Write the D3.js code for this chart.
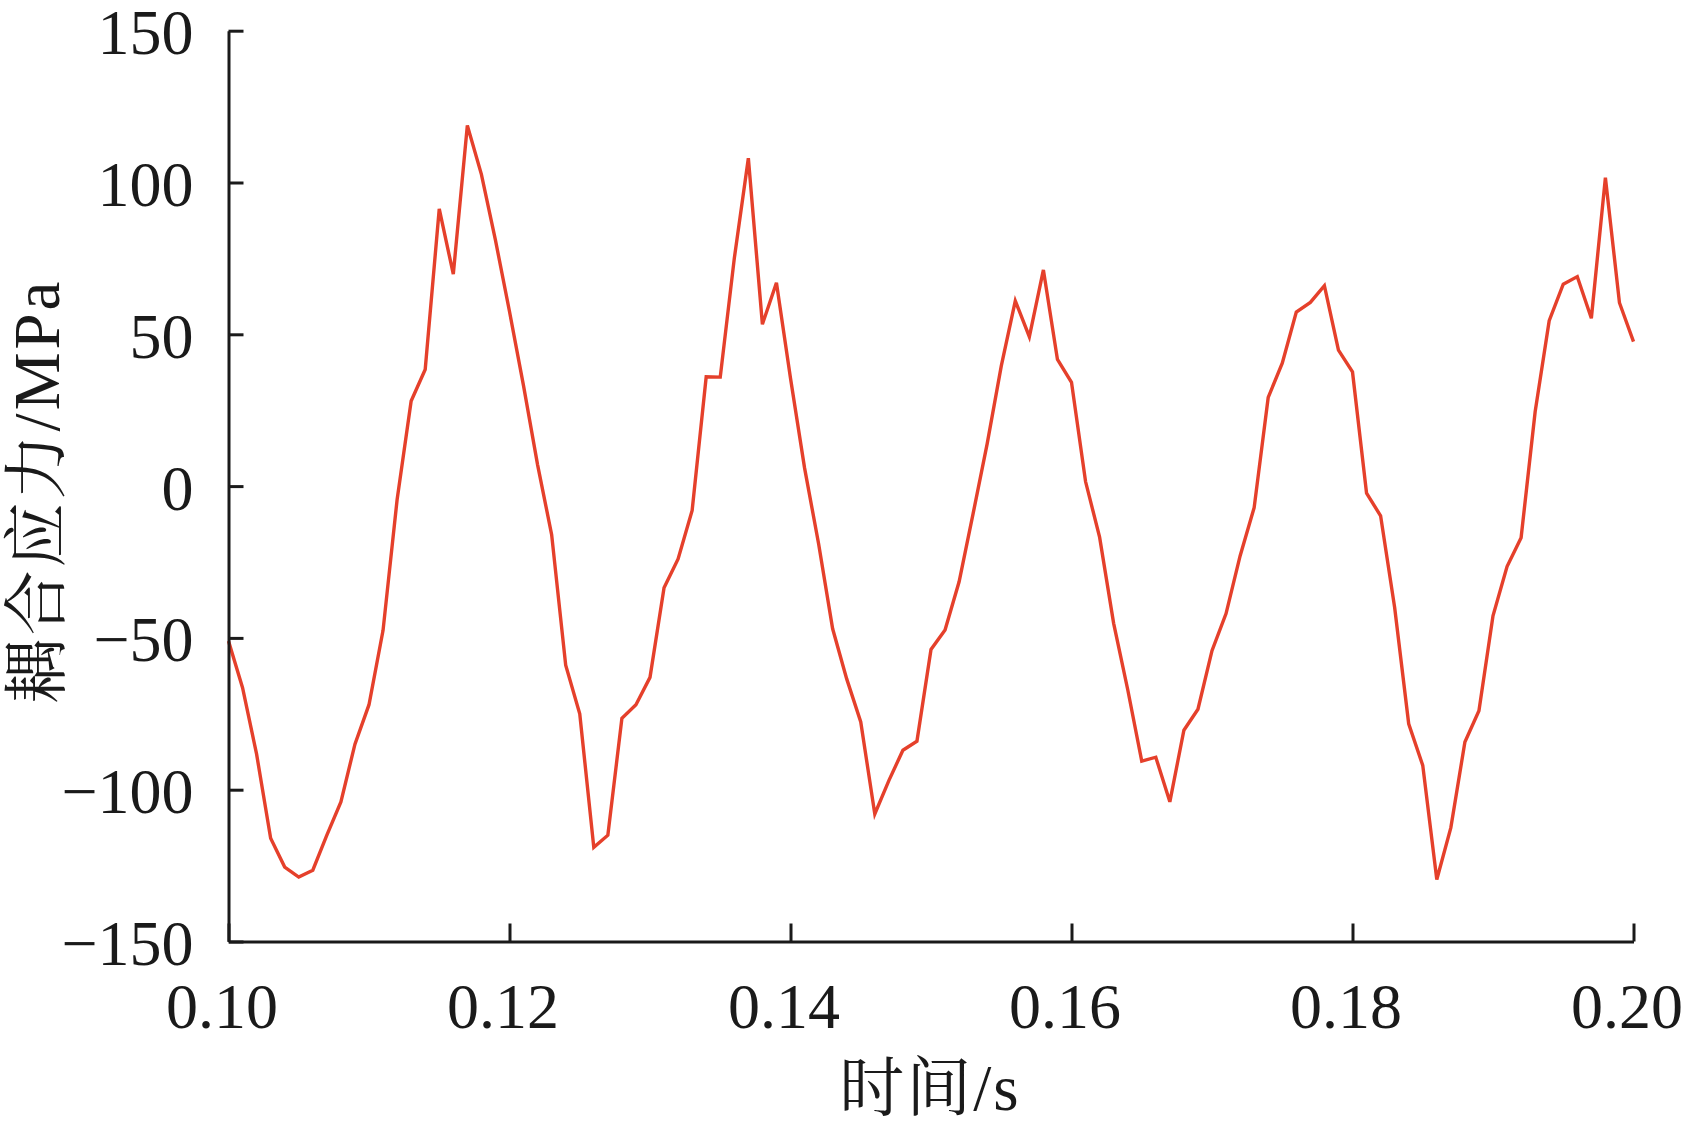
<!DOCTYPE html>
<html>
<head>
<meta charset="utf-8">
<script src="https://cdn.jsdelivr.net/npm/d3@7"></script>
<style>
  html, body { margin: 0; padding: 0; background: #fff; }
  svg { display: block; }
</style>
</head>
<body>
<svg id="chart" width="1684" height="1129"></svg>
<script>
// ---- data ----
const timeStart = 0.100;
const timeStep = 0.001;
const stressValues = [
  -51, -66.4, -88.3, -116, -125.5, -128.8, -126.5, -115, -104, -85,
  -72, -47.5, -4.5, 28, 38.4, 91.3, 69.8, 118.8, 102.7, 81,
  57.5, 33, 7, -16, -59, -75, -119, -115, -76.5, -72,
  -63, -33.5, -24, -8, 36, 35.9, 75, 108, 53.3, 67,
  35.5, 6, -19, -47, -63.5, -77.7, -108, -97, -87, -84,
  -53.8, -47.4, -31.5, -9, 14, 39.5, 61, 49.2, 71.2, 41.7,
  34.2, 1.5, -16.8, -45.2, -67, -90.6, -89.3, -104, -80.4, -73.5,
  -54.2, -42, -23, -7.1, 29.2, 40.5, 57.3, 60.5, 66, 44.8,
  37.6, -2.3, -9.8, -40, -78.3, -92, -129.6, -112.5, -84.3, -74,
  -42.7, -26.5, -17, 24.5, 54.5, 66.5, 69, 55.3, 101.6, 60.4,
  47.6
];
const xTicks = [0.10, 0.12, 0.14, 0.16, 0.18, 0.20];
const yTicks = [-150, -100, -50, 0, 50, 100, 150];
const xTitle = "时间/s";
const yTitle = "耦合应力/MPa";

const points = stressValues.map((v, i) => ({ t: timeStart + i * timeStep, v }));

// ---- layout ----
const plotLeft = 228.5, plotRight = 1633.5, plotTop = 30.7, plotBottom = 941.5;
const svg = d3.select("#chart");

const x = d3.scaleLinear().domain([0.10, 0.20]).range([plotLeft, plotRight]);
const y = d3.scaleLinear().domain([-150, 150]).range([plotBottom, plotTop]);

const fontNum = "'Liberation Serif', 'Times New Roman', serif";
const fontCJK = "'Liberation Serif', 'Noto Serif CJK SC', 'Noto Sans CJK SC', serif";

// line
const line = d3.line().x(d => x(d.t)).y(d => y(d.v));
svg.append("path")
  .datum(points)
  .attr("fill", "none")
  .attr("stroke", "#e5402b")
  .attr("stroke-width", 3.4)
  .attr("stroke-linejoin", "miter")
  .attr("d", line);

// y axis
const yAxis = d3.axisLeft(y)
  .tickValues(yTicks)
  .tickSizeInner(-15)
  .tickSizeOuter(0)
  .tickPadding(35)
  .tickFormat(d => d < 0 ? "\u2212" + Math.abs(d) : String(d));
const gy = svg.append("g").attr("transform", `translate(${plotLeft},0)`).call(yAxis);

// x axis
const xAxis = d3.axisBottom(x)
  .tickValues(xTicks)
  .tickSizeInner(-18)
  .tickSizeOuter(0)
  .tickPadding(41)
  .tickFormat(d3.format(".2f"));
const gx = svg.append("g").attr("transform", `translate(0,${plotBottom})`).call(xAxis);

[gx, gy].forEach(g => {
  g.select(".domain").attr("stroke", "#1a1a1a").attr("stroke-width", 3);
  g.selectAll(".tick line").attr("stroke", "#1a1a1a").attr("stroke-width", 3);
  g.selectAll(".tick text")
    .attr("fill", "#1a1a1a")
    .style("font-family", fontNum)
    .style("font-size", "64px");
});
gy.selectAll(".tick text").attr("dy", "0.36em");
gx.selectAll(".tick text").attr("dy", "0.71em").attr("dx", -7);

// titles
svg.append("text")
  .attr("x", 930)
  .attr("y", 1110)
  .attr("text-anchor", "middle")
  .attr("fill", "#1a1a1a")
  .style("font-family", fontCJK)
  .style("font-size", "65px")
  .style("letter-spacing", "2px")
  .text(xTitle);

svg.append("text")
  .attr("transform", `translate(59,491) rotate(-90)`)
  .attr("text-anchor", "middle")
  .attr("fill", "#1a1a1a")
  .style("font-family", fontCJK)
  .style("font-size", "65px")
  .style("letter-spacing", "3px")
  .text(yTitle);
</script>
</body>
</html>
